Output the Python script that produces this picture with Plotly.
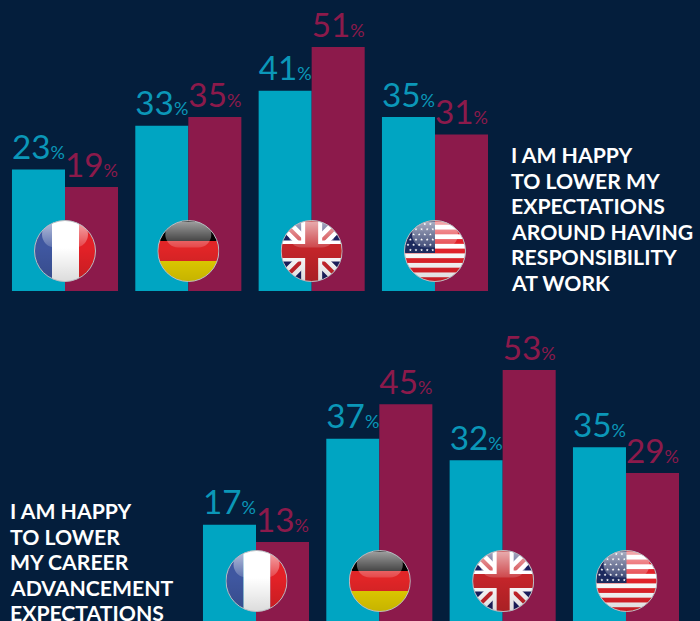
import base64
import math
import plotly.graph_objects as go

countries = ["France", "Germany", "UK", "USA"]
top_teal = [23, 33, 41, 35]
top_maroon = [19, 35, 51, 31]
bottom_teal = [17, 37, 32, 35]
bottom_maroon = [13, 45, 53, 29]
title_top = ["I AM HAPPY", "TO LOWER MY", "EXPECTATIONS", "AROUND HAVING", "RESPONSIBILITY", "AT WORK"]
title_bottom = ["I AM HAPPY", "TO LOWER", "MY CAREER", "ADVANCEMENT", "EXPECTATIONS"]

W, H = 700, 621
BG = "#041e3c"
TEAL = "#00a5c2"
MAROON = "#8c1a4b"
TEAL_TXT = "#0b97b8"
MAROON_TXT = "#8c1a4b"
NUM_FONT = "Lato"
HEAD_FONT = "Lato"


def star_points(cx, cy, r=1.5):
    pts = []
    for k in range(10):
        rr = r if k % 2 == 0 else r * 0.42
        a = -math.pi / 2 + k * math.pi / 5
        pts.append(f"{cx + rr * math.cos(a):.2f},{cy + rr * math.sin(a):.2f}")
    return " ".join(pts)


def flag_body(name):
    if name == "France":
        return ('<rect width="18" height="62" fill="#3f57a0"/>'
                '<rect x="18" width="27" height="62" fill="#fff"/>'
                '<rect x="45" width="17" height="62" fill="#e32127"/>')
    if name == "Germany":
        return ('<rect width="62" height="21" fill="#000"/>'
                '<rect y="21" width="62" height="20" fill="#e12527"/>'
                '<rect y="41" width="62" height="21" fill="#e6d000"/>')
    if name == "UK":
        return ('<rect width="62" height="62" fill="#1b1f5f"/>'
                '<path d="M0 0L62 62M62 0L0 62" stroke="#fff" stroke-width="13"/>'
                '<path d="M0 0L62 62M62 0L0 62" stroke="#c9252b" stroke-width="4"/>'
                '<rect x="20.5" width="21" height="62" fill="#fff"/>'
                '<rect y="20.5" width="62" height="21" fill="#fff"/>'
                '<rect x="24.5" width="13" height="62" fill="#c4252a"/>'
                '<rect y="24" width="62" height="14" fill="#c4252a"/>')
    s = '<rect width="62" height="62" fill="#fff"/>'
    h = 62 / 13
    for k in range(0, 13, 2):
        s += f'<rect y="{k * h:.2f}" width="62" height="{h:.2f}" fill="#e2222a"/>'
    s += '<rect width="31" height="33" fill="#1d2a5e"/>'
    for r in range(6):
        for c in range(5):
            s += f'<polygon points="{star_points(4 + c * 5.6 + (r % 2) * 2.4, 4 + r * 5.2)}" fill="#fff"/>'
    return s


def flag_uri(name):
    svg = (
        '<svg xmlns="http://www.w3.org/2000/svg" width="248" height="248" viewBox="0 0 62 62">'
        '<defs><clipPath id="c"><circle cx="31" cy="31" r="30.5"/></clipPath>'
        '<linearGradient id="s" x1="0" y1="0" x2="0" y2="1">'
        '<stop offset="0.45" stop-color="#000" stop-opacity="0"/>'
        '<stop offset="1" stop-color="#000" stop-opacity="0.14"/></linearGradient>'
        '<linearGradient id="g" x1="0" y1="0" x2="0" y2="1">'
        '<stop offset="0" stop-color="#fff" stop-opacity="0.62"/>'
        '<stop offset="1" stop-color="#fff" stop-opacity="0.16"/></linearGradient></defs>'
        '<g clip-path="url(#c)">' + flag_body(name) +
        '<rect width="62" height="62" fill="url(#s)"/>'
        '<rect x="8" y="1.5" width="46" height="26" rx="13" fill="url(#g)"/></g>'
        '<circle cx="31" cy="31" r="30.5" fill="none" stroke="#b9bcc2" stroke-width="1"/></svg>'
    )
    return "data:image/svg+xml;base64," + base64.b64encode(svg.encode()).decode()


def labels(vals):
    return [f"{v}<span style='font-size:20px'>%</span>" for v in vals]


def add_bars(fig, vals, color, txtcolor, base, xa, ya):
    fig.add_trace(go.Bar(
        x=countries, y=[v - base for v in vals], base=base, marker=dict(color=color, line=dict(width=0)),
        text=labels(vals), textposition="outside", textangle=0, cliponaxis=False,
        textfont=dict(family=NUM_FONT, size=37, color=txtcolor, weight=400),
        hoverinfo="skip", showlegend=False, xaxis=xa, yaxis=ya))


TOP_BASE = -4.8
BOT_BASE = -5.4
fig = go.Figure()
add_bars(fig, top_teal, TEAL, TEAL_TXT, TOP_BASE, "x", "y")
add_bars(fig, top_maroon, MAROON, MAROON_TXT, TOP_BASE, "x", "y")
add_bars(fig, bottom_teal, TEAL, TEAL_TXT, BOT_BASE, "x2", "y2")
add_bars(fig, bottom_maroon, MAROON, MAROON_TXT, BOT_BASE, "x2", "y2")

hidden = dict(visible=False, showgrid=False, zeroline=False, fixedrange=True)
cat = dict(type="category", categoryorder="array", categoryarray=countries)
PITCH = 123.33


def xr(center):
    return [-center / PITCH, (W - center) / PITCH]


images = []
for i, c in enumerate(countries):
    for cx0, cy in ((65, 251), (256.5, 581)):
        images.append(dict(source=flag_uri(c), xref="paper", yref="paper",
                           x=(cx0 + PITCH * i) / W, y=1 - cy / H,
                           sizex=62 / W, sizey=62 / H, xanchor="center", yanchor="middle",
                           sizing="stretch", layer="above"))


def heading(lines, x_px, y_px):
    return [dict(text=t, xref="paper", yref="paper", x=x_px / W, y=1 - (y_px + 25.6 * k) / H,
                 xanchor="left", yanchor="middle", align="left", showarrow=False, borderpad=0,
                 font=dict(family=HEAD_FONT, size=21.2, color="#ffffff", weight=700))
            for k, t in enumerate(lines)]


fig.update_layout(
    width=W, height=H, margin=dict(l=0, r=0, t=0, b=0), autosize=False,
    paper_bgcolor=BG, plot_bgcolor="rgba(0,0,0,0)",
    barmode="group", bargap=0.14, bargroupgap=0,
    xaxis=dict(**hidden, **cat, domain=[0, 1], range=xr(65), anchor="y"),
    yaxis=dict(**hidden, domain=[1 - 291 / H, 1], range=[TOP_BASE, 291 / 4.375 + TOP_BASE], anchor="x"),
    xaxis2=dict(**hidden, **cat, domain=[0, 1], range=xr(256), anchor="y2"),
    yaxis2=dict(**hidden, domain=[0, (H - 310) / H], range=[BOT_BASE, (H - 310) / 4.3 + BOT_BASE], anchor="x2"),
    images=images,
    annotations=heading(title_top, 509.5, 155) + heading(title_bottom, 9, 511),
)
fig.write_html("out.html", config=dict(displayModeBar=False),
               post_script="document.body.style.margin='0';document.body.style.background='%s';" % BG)
